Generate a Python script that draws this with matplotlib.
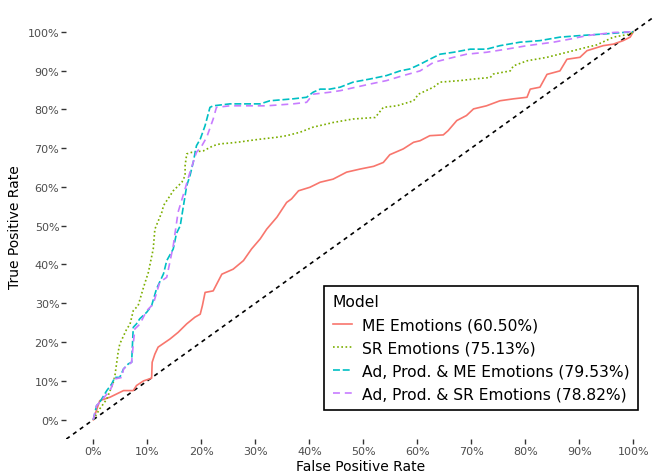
import matplotlib
matplotlib.use("Agg")
import matplotlib.pyplot as plt
from matplotlib.ticker import FuncFormatter

plt.rcParams['font.family'] = ['DejaVu Sans']
plt.rcParams['lines.scale_dashes'] = False

# ROC points (false positive rate, true positive rate)
me_fpr = [0, .012, .031, .056, .074, .080, .093, .108, .109, .114, .12, .142, .157, .173, .188, .198,
          .202, .207, .222, .238, .259, .278, .293, .309, .321, .34, .358, .367, .38, .401, .42, .444,
          .469, .494, .519, .537, .549, .574, .593, .605, .623, .648, .657, .673, .691, .704, .728,
          .753, .778, .803, .809, .827, .84, .864, .877, .901, .914, .944, .963, .981, .994, 1.0]
me_tpr = [0, .049, .058, .075, .075, .088, .10, .107, .148, .169, .187, .208, .225, .247, .264, .272,
          .294, .328, .332, .375, .388, .41, .44, .466, .491, .522, .56, .569, .59, .599, .612, .62,
          .638, .646, .653, .663, .683, .698, .715, .719, .732, .734, .745, .771, .784, .801, .809,
          .822, .827, .831, .852, .857, .89, .899, .929, .934, .951, .964, .968, .977, .986, 1.0]

sr_fpr = [0, .012, .025, .037, .04, .046, .049, .062, .068, .074, .083, .093, .102, .111, .114, .127,
          .13, .142, .148, .164, .17, .17, .173, .182, .204, .222, .235, .253, .272, .287, .309, .34,
          .358, .383, .407, .432, .444, .481, .522, .537, .562, .593, .602, .63, .642, .679, .704,
          .735, .741, .772, .778, .803, .84, .877, .914, .932, .963, .994, 1.0]
sr_tpr = [0, .028, .053, .096, .113, .174, .195, .234, .246, .281, .294, .341, .38, .44, .491, .535,
          .552, .577, .59, .612, .629, .655, .685, .689, .693, .706, .711, .713, .716, .719, .723, .728,
          .732, .741, .754, .762, .766, .775, .779, .805, .809, .822, .839, .857, .87, .874, .878,
          .882, .891, .899, .912, .925, .934, .947, .96, .966, .986, .994, 1.0]

adme_fpr = [0, .006, .012, .025, .034, .04, .049, .056, .065, .071, .074, .08, .086, .099, .108, .117,
            .13, .136, .148, .154, .161, .167, .173, .179, .185, .191, .198, .207, .216, .222, .253,
            .29, .309, .327, .37, .395, .407, .42, .438, .457, .481, .512, .543, .568, .586, .605,
            .623, .642, .667, .698, .728, .753, .79, .827, .864, .901, .944, 1.0]
adme_tpr = [0, .036, .045, .075, .092, .109, .109, .131, .144, .148, .238, .247, .26, .277, .294, .337,
            .376, .41, .44, .48, .5, .552, .603, .629, .663, .706, .723, .758, .805, .809, .814,
            .814, .814, .822, .827, .831, .844, .852, .852, .857, .87, .878, .887, .899, .904, .916,
            .929, .942, .947, .955, .955, .964, .973, .977, .986, .99, .994, 1.0]

adsr_fpr = [0, .006, .012, .031, .04, .053, .056, .071, .074, .077, .086, .099, .111, .123, .136, .148,
            .157, .17, .179, .191, .201, .21, .222, .228, .253, .29, .321, .37, .395, .407, .438, .457,
            .512, .543, .574, .605, .63, .667, .691, .728, .765, .803, .852, .883, .914, .963, 1.0]
adsr_tpr = [0, .036, .045, .075, .105, .109, .131, .148, .195, .234, .246, .281, .298, .354, .367, .448,
            .535, .595, .638, .689, .706, .728, .775, .805, .809, .809, .809, .814, .818, .839, .844,
            .848, .865, .874, .887, .899, .921, .934, .942, .947, .955, .964, .973, .981, .99, .998, 1.0]

labels = ["ME Emotions (60.50%)", "SR Emotions (75.13%)",
          "Ad, Prod. & ME Emotions (79.53%)", "Ad, Prod. & SR Emotions (78.82%)"]
ticks = [0, .1, .2, .3, .4, .5, .6, .7, .8, .9, 1.0]

fig = plt.figure(figsize=(6.55, 4.77), dpi=100)
ax = fig.add_axes([0.1012, 0.0774, 0.8988, 0.8947])

lw = 1.2
ax.axline((0, 0), slope=1, color="black", lw=lw, dashes=(3, 3))
ax.plot(me_fpr, me_tpr, color="#F8766D", lw=lw, label=labels[0])
ax.plot(sr_fpr, sr_tpr, color="#7CAE00", lw=lw, dashes=(1.2, 1.8), label=labels[1])
ax.plot(adme_fpr, adme_tpr, color="#00BFC4", lw=lw, dashes=(5, 2), label=labels[2])
ax.plot(adsr_fpr, adsr_tpr, color="#C77CFF", lw=lw, dashes=(5, 3.5), label=labels[3])

ax.set_xlim(-0.05, 1.04)
ax.set_ylim(-0.05, 1.05)
pct = FuncFormatter(lambda v, p: f"{v * 100:.0f}%")
ax.set_xticks(ticks)
ax.set_yticks(ticks)
ax.xaxis.set_major_formatter(pct)
ax.yaxis.set_major_formatter(pct)
ax.tick_params(length=3.5, width=1, color="#333333", labelsize=8, labelcolor="#4D4D4D", pad=1.5)
for s in ax.spines.values():
    s.set_visible(False)

ax.set_xlabel("False Positive Rate", fontsize=10, labelpad=2)
ax.set_ylabel("True Positive Rate", fontsize=10, labelpad=4)

leg = ax.legend(title="Model", loc="lower right", bbox_to_anchor=(0.971, 0.068),
                borderaxespad=0, fontsize=11.2, title_fontsize=11.2, fancybox=False,
                framealpha=1, edgecolor="black", handlelength=1.2, handletextpad=0.65,
                labelspacing=0.52, borderpad=0.55, alignment="left")
leg.get_frame().set_linewidth(1.2)

fig.savefig("out.png", dpi=100)
